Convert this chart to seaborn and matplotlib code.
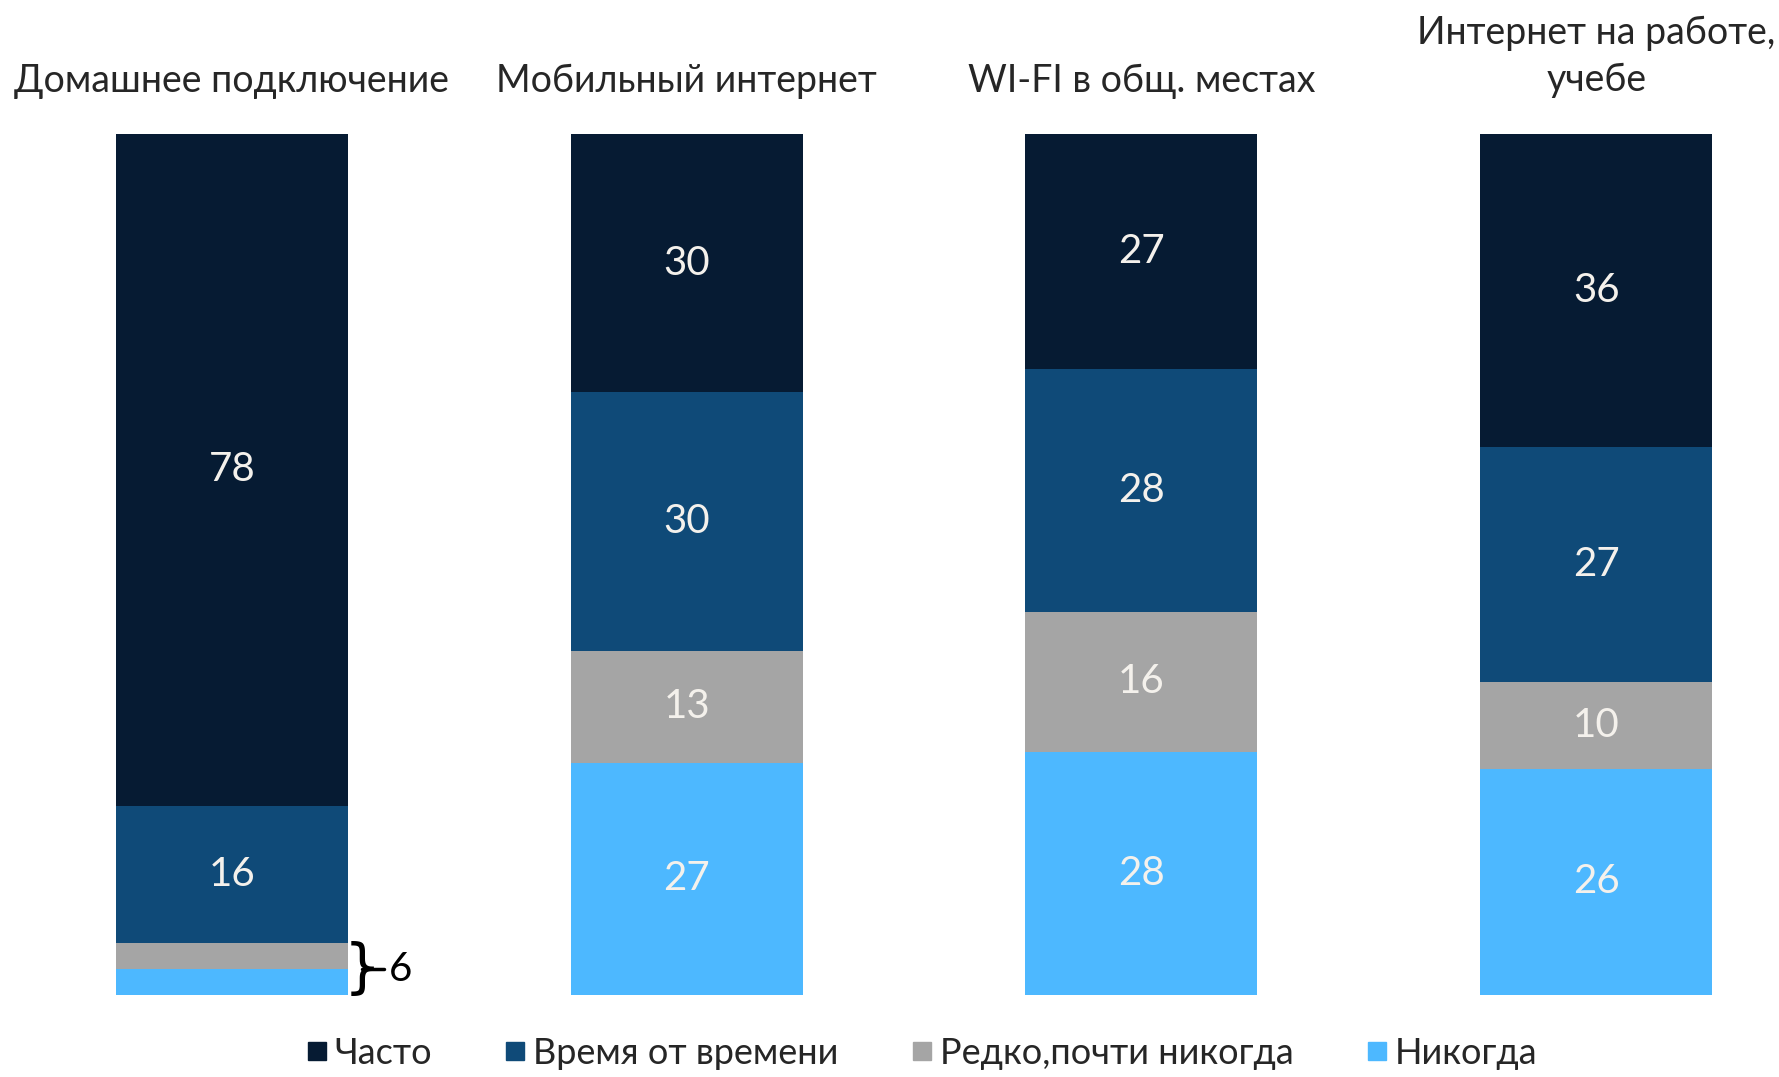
import numpy as np
import matplotlib
matplotlib.use('Agg')
import matplotlib.pyplot as plt
from matplotlib.lines import Line2D
import seaborn as sns

# Data (percent)
categories = ['Домашнее подключение', 'Мобильный интернет', 'WI-FI в общ. местах', 'Интернет на работе,\nучебе']
often = [78, 30, 27, 36]
sometimes = [16, 30, 28, 27]
rarely = [3, 13, 16, 10]
never = [3, 27, 28, 26]
series_names = ['Часто', 'Время от времени', 'Редко,почти никогда', 'Никогда']
colors = ['#061b33', '#0f4a78', '#a5a5a5', '#4db8ff']
home_small_total = 6

sns.set_theme(style='white')
plt.rcParams['font.family'] = ['Lato', 'DejaVu Sans']

# normalise every bar to 100 %
vals = np.array([often, sometimes, rarely, never], dtype=float)
vals = vals / vals.sum(axis=0) * 100

fig = plt.figure(figsize=(17.79, 10.77), dpi=100)
ax = fig.add_axes([0, 0.0761, 1, 0.7995])

# stack: draw cumulative totals from the top layer down so they overlap
bottoms = np.zeros(4)
cum = {}
for k in range(3, -1, -1):
    cum[k] = (bottoms.copy(), bottoms + vals[k])
    bottoms = bottoms + vals[k]

for k in range(4):
    sns.barplot(x=list(range(4)), y=cum[k][1], color=colors[k], saturation=1,
                width=0.51, ax=ax, linewidth=0)

# segment labels
for k in range(4):
    lo, hi = cum[k]
    raw = [often, sometimes, rarely, never][k]
    for i in range(4):
        if raw[i] < 5:
            continue
        ax.text(i, (lo[i] + hi[i]) / 2, str(raw[i]), ha='center', va='center',
                fontsize=29, color='#f4f1ec')

# bracket for the small home segments
ymid = cum[2][1][0] / 2
ax.text(0.245, ymid, '}', ha='left', va='center', fontsize=42,
        color='black', family='DejaVu Sans', clip_on=False)
ax.plot([0.285, 0.335], [ymid, ymid], color='black', lw=2.5, clip_on=False)
ax.text(0.345, ymid, str(home_small_total), ha='left', va='center', fontsize=29,
        color='black', clip_on=False)

# column titles
for i, c in enumerate(categories):
    ypos = 109.0 if '\n' in c else 106.2
    ax.text(i, ypos, c, ha='center', va='center', fontsize=27, color='#262626',
            linespacing=1.4, clip_on=False)

ax.set_xlim(-0.510, 3.402)
ax.set_ylim(0, 100)
ax.axis('off')

handles = [Line2D([], [], marker='s', linestyle='', markersize=13, color=c) for c in colors]
fig.legend(handles, series_names, loc='center', bbox_to_anchor=(0.517, 0.022), ncol=4,
           frameon=False, fontsize=26, handletextpad=0.1, columnspacing=1.9,
           handlelength=0.8, labelcolor='#262626')

fig.savefig('out.png', dpi=100, facecolor='white')
